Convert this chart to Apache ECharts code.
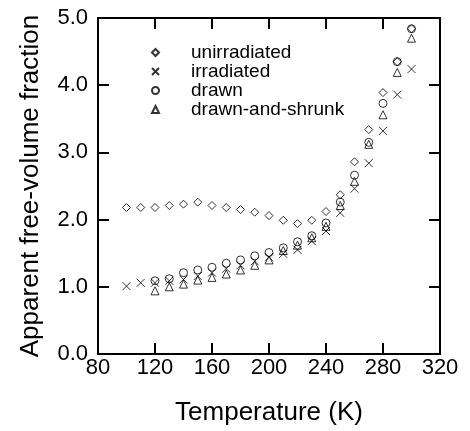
<!DOCTYPE html>
<html>
<head>
<meta charset="utf-8">
<script src="https://cdn.jsdelivr.net/npm/echarts@6/dist/echarts.min.js"></script>
<style>
  html, body { margin: 0; padding: 0; background: #fff; }
  #chart_View_Free_Volume { width: 470px; height: 431px; }
</style>
</head>
<body>
<div id="chart_View_Free_Volume"></div>
<script>
// temperatures (K)
var tempsAll = [100, 110, 120, 130, 140, 150, 160, 170, 180, 190, 200, 210, 220, 230, 240, 250, 260, 270, 280, 290, 300];
var tempsDrawn = [120, 130, 140, 150, 160, 170, 180, 190, 200, 210, 220, 230, 240, 250, 260, 270, 280, 290, 300];

var unirradiated = [2.18, 2.18, 2.18, 2.21, 2.23, 2.26, 2.21, 2.18, 2.15, 2.11, 2.06, 1.99, 1.94, 1.99, 2.12, 2.37, 2.86, 3.34, 3.89, 4.35, 4.84];
var irradiated = [1.01, 1.06, 1.06, 1.09, 1.11, 1.16, 1.21, 1.27, 1.32, 1.38, 1.44, 1.49, 1.55, 1.68, 1.83, 2.10, 2.46, 2.84, 3.32, 3.86, 4.24];
var drawn = [1.09, 1.12, 1.21, 1.25, 1.29, 1.35, 1.40, 1.46, 1.51, 1.58, 1.67, 1.76, 1.95, 2.26, 2.66, 3.15, 3.73, 4.35, 4.84];
var drawnShrunk = [0.94, 1.00, 1.04, 1.10, 1.14, 1.19, 1.25, 1.32, 1.40, 1.54, 1.62, 1.73, 1.90, 2.21, 2.57, 3.12, 3.56, 4.19, 4.70];

var seriesNames = ['unirradiated', 'irradiated', 'drawn', 'drawn-and-shrunk'];

var xTicks = [80, 120, 160, 200, 240, 280, 320];
var yTicks = [0.0, 1.0, 2.0, 3.0, 4.0, 5.0];

var FONT = '"Liberation Sans", Arial, Helvetica, sans-serif';
var crossPath = 'path://M0,0L10,10M10,0L0,10';

function pairUp(xs, ys) {
    var out = [];
    for (var i = 0; i < xs.length; i++) {
        out.push([xs[i], ys[i]]);
    }
    return out;
}

var chart_View_Free_Volume = echarts.init(document.getElementById('chart_View_Free_Volume'), null, { renderer: 'canvas' });

var markStyle = {
    color: 'transparent',
    borderColor: '#000',
    borderWidth: 1
};

function axisLineStyle() {
    return { show: true, onZero: false, lineStyle: { color: '#000', width: 2, opacity: 1 } };
}
function axisTickStyle() {
    return { show: true, inside: true, length: 11, lineStyle: { color: '#000', width: 2, opacity: 1 } };
}

var option = {
    animation: false,
    backgroundColor: '#fff',
    grid: {
        show: true,
        borderColor: '#000',
        borderWidth: 2,
        backgroundColor: 'transparent',
        left: 98,
        right: 30,
        top: 18,
        bottom: 76,
        containLabel: false
    },
    legend: {
        orient: 'vertical',
        left: 146,
        top: 38,
        itemWidth: 7,
        itemHeight: 7,
        itemGap: 0,
        data: seriesNames,
        textStyle: {
            fontFamily: FONT,
            fontSize: 19,
            lineHeight: 18,
            color: '#000',
            padding: [0, 0, 0, 27]
        }
    },
    xAxis: [{
        type: 'value',
        min: xTicks[0],
        max: xTicks[xTicks.length - 1],
        interval: 40,
        name: 'Temperature (K)',
        nameLocation: 'middle',
        nameGap: 46,
        nameTextStyle: { fontFamily: FONT, fontSize: 26, color: '#000' },
        axisLine: axisLineStyle(),
        axisTick: axisTickStyle(),
        axisLabel: { fontFamily: FONT, fontSize: 22, color: '#000', margin: 3 },
        splitLine: { show: false }
    }, {
        type: 'value',
        position: 'top',
        min: xTicks[0],
        max: xTicks[xTicks.length - 1],
        interval: 40,
        axisLine: axisLineStyle(),
        axisTick: axisTickStyle(),
        axisLabel: { show: false },
        splitLine: { show: false }
    }],
    yAxis: [{
        type: 'value',
        min: yTicks[0],
        max: yTicks[yTicks.length - 1],
        interval: 1,
        name: 'Apparent free-volume fraction',
        nameLocation: 'middle',
        nameGap: 54,
        nameTextStyle: { fontFamily: FONT, fontSize: 26, color: '#000' },
        axisLine: axisLineStyle(),
        axisTick: axisTickStyle(),
        axisLabel: {
            fontFamily: FONT, fontSize: 22, color: '#000', margin: 10,
            formatter: function (v) { return v.toFixed(1); }
        },
        splitLine: { show: false }
    }, {
        type: 'value',
        position: 'right',
        min: yTicks[0],
        max: yTicks[yTicks.length - 1],
        interval: 1,
        axisLine: axisLineStyle(),
        axisTick: axisTickStyle(),
        axisLabel: { show: false },
        splitLine: { show: false }
    }],
    series: [
        {
            name: seriesNames[0],
            type: 'scatter',
            symbol: 'diamond',
            symbolSize: 8,
            itemStyle: markStyle,
            data: pairUp(tempsAll, unirradiated)
        },
        {
            name: seriesNames[1],
            type: 'scatter',
            symbol: crossPath,
            symbolSize: 8,
            itemStyle: markStyle,
            data: pairUp(tempsAll, irradiated)
        },
        {
            name: seriesNames[2],
            type: 'scatter',
            symbol: 'circle',
            symbolSize: 8,
            itemStyle: markStyle,
            data: pairUp(tempsDrawn, drawn)
        },
        {
            name: seriesNames[3],
            type: 'scatter',
            symbol: 'triangle',
            symbolSize: 8,
            itemStyle: markStyle,
            data: pairUp(tempsDrawn, drawnShrunk)
        }
    ]
};

chart_View_Free_Volume.setOption(option);
</script>
</body>
</html>
